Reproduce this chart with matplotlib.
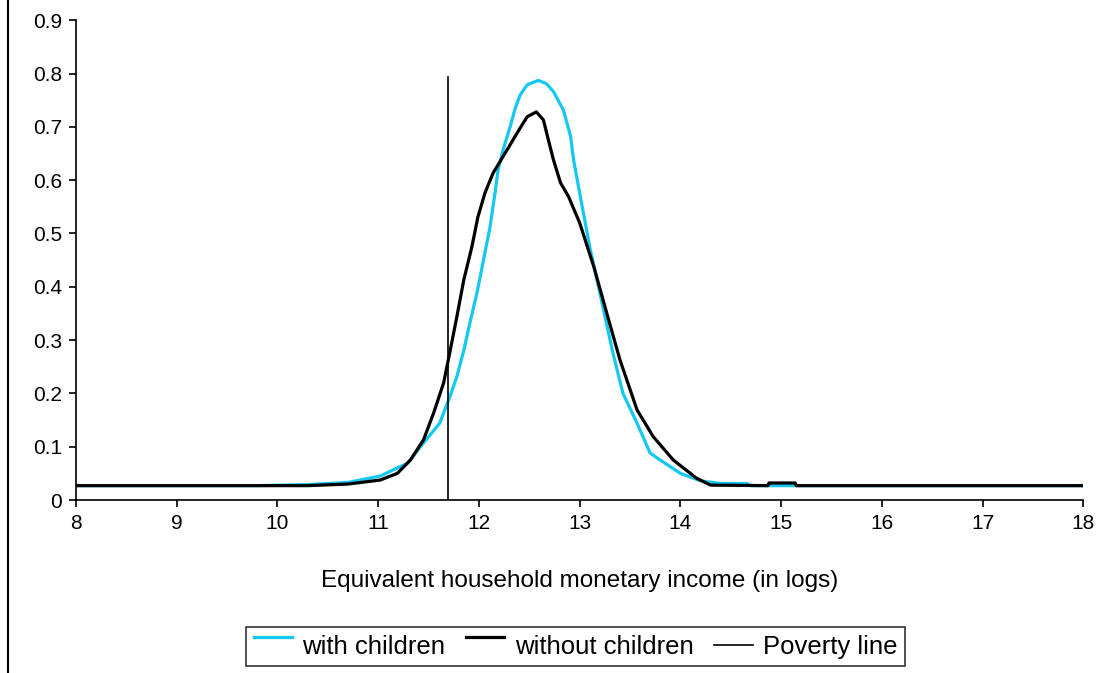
import numpy as np
import matplotlib
matplotlib.use('Agg')
import matplotlib.pyplot as plt
from matplotlib.lines import Line2D
from matplotlib.legend_handler import HandlerLine2D

plt.rcParams['font.family'] = ['Liberation Sans', 'DejaVu Sans']

# 有孩子的家庭 (with children)
x_with = [8.0, 9.8, 10.3, 10.7, 11.02, 11.29, 11.45, 11.61, 11.71, 11.78, 11.85, 11.91,
          11.98, 12.04, 12.11, 12.16, 12.19, 12.24, 12.31, 12.36, 12.41, 12.48, 12.59, 12.67,
          12.74, 12.84, 12.91, 12.94, 13.0, 13.10, 13.23, 13.33, 13.43, 13.57, 13.70,
          13.80, 14.0, 14.2, 14.4, 14.66, 14.7, 18.0]
y_with = [0.027, 0.027, 0.029, 0.033, 0.045, 0.069, 0.107, 0.144, 0.193, 0.231, 0.281, 0.332,
          0.388, 0.445, 0.512, 0.576, 0.619, 0.657, 0.70, 0.735, 0.760, 0.779, 0.787, 0.781,
          0.766, 0.731, 0.682, 0.638, 0.576, 0.475, 0.363, 0.276, 0.2, 0.144, 0.088,
          0.075, 0.05, 0.036, 0.031, 0.031, 0.027, 0.027]

# 无孩子的家庭 (without children)
x_without = [8.0, 10.3, 10.7, 11.02, 11.19, 11.32, 11.45, 11.55, 11.65, 11.71, 11.78, 11.85,
             11.93, 11.99, 12.06, 12.14, 12.28, 12.41, 12.48, 12.57, 12.64, 12.69, 12.74,
             12.81, 12.89, 13.0, 13.14, 13.27, 13.40, 13.57, 13.73, 13.93, 14.16, 14.3,
             14.87, 14.88, 15.14, 15.15, 18.0]
y_without = [0.027, 0.027, 0.030, 0.0375, 0.05, 0.075, 0.113, 0.163, 0.22, 0.276, 0.343, 0.413,
             0.475, 0.531, 0.576, 0.613, 0.657, 0.698, 0.719, 0.728, 0.713, 0.675, 0.638,
             0.595, 0.569, 0.52, 0.438, 0.35, 0.263, 0.169, 0.119, 0.075, 0.041, 0.028,
             0.027, 0.032, 0.032, 0.027, 0.027]

# 贫困线
poverty_x = 11.69
poverty_top = 0.794

x_ticks = [8, 9, 10, 11, 12, 13, 14, 15, 16, 17, 18]
y_ticks = [0, 0.1, 0.2, 0.3, 0.4, 0.5, 0.6, 0.7, 0.8, 0.9]


# 图例线条上移（Excel风格）
class RaisedHandler(HandlerLine2D):
    def __init__(self, shift, **kw):
        super().__init__(**kw)
        self.shift = shift

    def create_artists(self, legend, orig_handle, xdescent, ydescent, width, height, fontsize, trans):
        arts = super().create_artists(legend, orig_handle, xdescent, ydescent, width, height, fontsize, trans)
        for a in arts:
            a.set_ydata(np.asarray(a.get_ydata()) + self.shift * height)
        return arts


fig = plt.figure(figsize=(11.13, 6.73), dpi=100)
ax = fig.add_axes([0.0683, 0.257, 0.905, 0.713])

l1, = ax.plot(x_with, y_with, color='#14C8F2', lw=2.3, label='with children')
l2, = ax.plot(x_without, y_without, color='black', lw=2.3, label='without children')
l3, = ax.plot([poverty_x, poverty_x], [0, poverty_top], color='black', lw=1.2, label='Poverty line')

ax.set_xlim(8, 18)
ax.set_ylim(0, 0.9)
ax.set_xticks(x_ticks)
ax.set_yticks(y_ticks)
ax.set_yticklabels(['0' if v == 0 else f'{v:.1f}' for v in y_ticks])
ax.tick_params(direction='out', length=5, width=1.2, labelsize=15, pad=5)
for s in ['top', 'right']:
    ax.spines[s].set_visible(False)
for s in ['left', 'bottom']:
    ax.spines[s].set_linewidth(1.2)

ax.set_xlabel('Equivalent household monetary income (in logs)', fontsize=17.5, labelpad=27)

leg = fig.legend(handles=[l1, l2, l3], loc='center', bbox_to_anchor=(0.517, 0.039), ncol=3,
                 fontsize=18.5, frameon=True, fancybox=False, edgecolor='black',
                 handlelength=1.5, handletextpad=0.4, columnspacing=0.8, borderpad=0.3,
                 borderaxespad=0,
                 handler_map={l1: RaisedHandler(0.45), l2: RaisedHandler(0.45)})
leg.get_frame().set_linewidth(1.2)

# 图表区左边框
fig.add_artist(Line2D([7.5 / 1113, 7.5 / 1113], [0, 1], transform=fig.transFigure,
                      color='black', lw=1.5))

plt.savefig('out.png', dpi=100)
